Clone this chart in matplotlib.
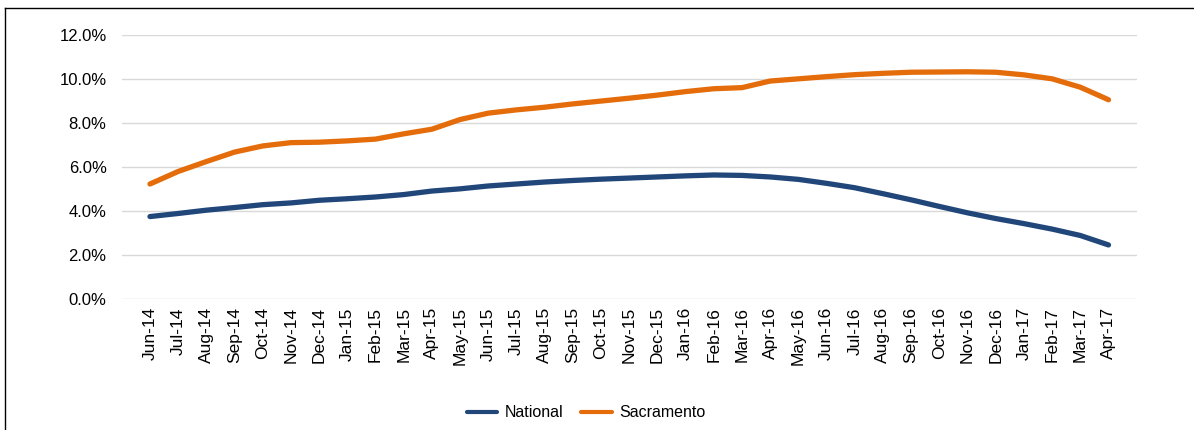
import matplotlib.pyplot as plt
from matplotlib.lines import Line2D
from matplotlib.ticker import FuncFormatter

plt.rcParams['font.family'] = ['Liberation Sans', 'DejaVu Sans']

months = ["Jun-14", "Jul-14", "Aug-14", "Sep-14", "Oct-14", "Nov-14", "Dec-14",
          "Jan-15", "Feb-15", "Mar-15", "Apr-15", "May-15", "Jun-15", "Jul-15",
          "Aug-15", "Sep-15", "Oct-15", "Nov-15", "Dec-15", "Jan-16", "Feb-16",
          "Mar-16", "Apr-16", "May-16", "Jun-16", "Jul-16", "Aug-16", "Sep-16",
          "Oct-16", "Nov-16", "Dec-16", "Jan-17", "Feb-17", "Mar-17", "Apr-17"]

national = [3.74, 3.88, 4.03, 4.15, 4.28, 4.36, 4.48, 4.55, 4.63, 4.74, 4.9, 5.0,
            5.13, 5.22, 5.31, 5.38, 5.44, 5.49, 5.54, 5.59, 5.63, 5.61, 5.54, 5.43,
            5.25, 5.05, 4.78, 4.5, 4.2, 3.91, 3.65, 3.42, 3.17, 2.88, 2.45]

sacramento = [5.22, 5.79, 6.24, 6.67, 6.95, 7.1, 7.12, 7.18, 7.26, 7.5, 7.71, 8.15,
              8.44, 8.59, 8.71, 8.86, 8.99, 9.12, 9.26, 9.42, 9.55, 9.6, 9.9, 10.0,
              10.1, 10.19, 10.25, 10.3, 10.31, 10.32, 10.3, 10.18, 10.0, 9.62, 9.05]

fig = plt.figure(figsize=(11.94, 4.30), dpi=100)
ax = fig.add_axes([0.102, 0.305, 0.85, 0.614])

x = range(len(months))
ax.plot(x, national, color="#21477A", lw=3.8, solid_capstyle="round", label="National")
ax.plot(x, sacramento, color="#E46C0A", lw=3.8, solid_capstyle="round", label="Sacramento")

ax.set_ylim(0, 12)
ax.set_yticks([0, 2, 4, 6, 8, 10, 12])
ax.yaxis.set_major_formatter(FuncFormatter(lambda v, p: "%.1f%%" % v))
ax.set_xlim(-1, len(months))
ax.set_xticks(list(x))
ax.set_xticklabels(months, rotation=90, fontsize=12.5)
ax.tick_params(axis="y", labelsize=12, length=0, pad=11)
ax.tick_params(axis="x", length=0, pad=6)
ax.grid(axis="y", color="#D9D9D9", lw=1)
ax.set_axisbelow(True)
for s in ax.spines.values():
    s.set_visible(False)

leg = fig.legend(loc="center", bbox_to_anchor=(0.491, 0.04), ncol=2, frameon=False,
                 fontsize=11.5, handlelength=1.9, columnspacing=1.1, handletextpad=0.5)
for h in leg.get_lines():
    h.set_linewidth(3)

# frame edges visible in the cropped original
fig.add_artist(Line2D([0.0045, 0.0045], [0, 0.982], color="black", lw=1))
fig.add_artist(Line2D([0.0045, 1], [0.982, 0.982], color="black", lw=1))

fig.savefig("out.png", dpi=100)
